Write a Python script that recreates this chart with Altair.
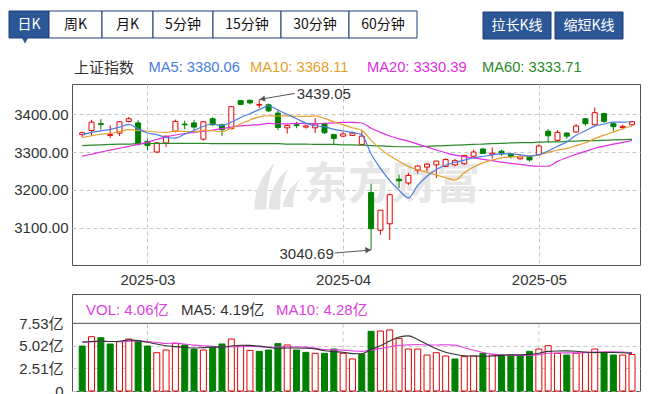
import altair as alt
import pandas as pd

# ---------------- data ----------------
dates = ["02-20", "02-21", "02-24", "02-25", "02-26", "02-27", "02-28",
         "03-03", "03-04", "03-05", "03-06", "03-07", "03-10", "03-11", "03-12", "03-13", "03-14",
         "03-17", "03-18", "03-19", "03-20", "03-21", "03-24", "03-25", "03-26", "03-27", "03-28", "03-31",
         "04-01", "04-02", "04-03", "04-07", "04-08", "04-09", "04-10", "04-11", "04-14", "04-15", "04-16",
         "04-17", "04-18", "04-21", "04-22", "04-23", "04-24", "04-25", "04-28", "04-29", "04-30",
         "05-06", "05-07", "05-08", "05-09", "05-12", "05-13", "05-14", "05-15", "05-16", "05-19", "05-20"]

opens = [3346, 3357, 3375, 3344, 3350, 3381, 3377, 3328, 3300, 3324,
         3355, 3374, 3377, 3334, 3388, 3372, 3362, 3436, 3437, 3424,
         3425, 3403, 3364, 3372, 3366, 3364, 3375, 3346, 3342, 3344,
         3320, 3193, 3093, 3110, 3228, 3218, 3252, 3260, 3266, 3262,
         3266, 3269, 3289, 3308, 3294, 3302, 3295, 3282, 3287, 3293,
         3355, 3331, 3350, 3353, 3388, 3372, 3402, 3375, 3365, 3372]
highs = [3354, 3385, 3387, 3371, 3382, 3393, 3384, 3336, 3327, 3343,
         3386, 3383, 3385, 3382, 3392, 3375, 3422, 3437, 3438, 3439.05,
         3428, 3412, 3373, 3380, 3372, 3390, 3377, 3348, 3353, 3354,
         3355, 3216, 3146, 3190, 3240, 3245, 3266, 3270, 3277, 3283,
         3282, 3292, 3306, 3310, 3312, 3306, 3298, 3293, 3290, 3320,
         3361, 3358, 3352, 3374, 3390, 3418, 3404, 3377, 3372, 3383]
lows = [3340, 3342, 3359, 3337, 3343, 3378, 3317, 3305, 3297, 3313,
        3352, 3360, 3358, 3330, 3370, 3342, 3360, 3424, 3426, 3416,
        3406, 3358, 3349, 3363, 3362, 3350, 3348, 3318, 3340, 3343,
        3317, 3040.69, 3081, 3067, 3205, 3213, 3243, 3249, 3231, 3260,
        3262, 3266, 3287, 3295, 3282, 3290, 3283, 3280, 3275, 3290,
        3324, 3329, 3335, 3351, 3369, 3370, 3377, 3355, 3360, 3370]
closes = [3351, 3379, 3373, 3346, 3380, 3388, 3321, 3317, 3324, 3342,
          3381, 3372, 3366, 3380, 3372, 3359, 3420, 3426, 3430, 3426,
          3409, 3365, 3370, 3370, 3369, 3374, 3351, 3336, 3348, 3350,
          3342, 3097, 3146, 3187, 3224, 3238, 3263, 3268, 3276, 3280,
          3277, 3291, 3300, 3296, 3297, 3295, 3288, 3287, 3279, 3316,
          3343, 3352, 3342, 3369, 3375, 3404, 3381, 3367, 3368, 3380]

ma5 = [3346, 3352, 3356, 3360, 3365.8, 3373.2, 3361.6, 3350.4, 3346, 3338.4,
       3337, 3347.2, 3357, 3368.2, 3374.2, 3369.8, 3379.4, 3391.4, 3401.4, 3412.2,
       3422.2, 3411.2, 3400, 3388, 3376.6, 3369.6, 3366.8, 3360, 3355.6, 3351.8,
       3345.4, 3294.6, 3256.6, 3224.4, 3199.2, 3178.4, 3211.6, 3236, 3253.8, 3265,
       3272.8, 3278.4, 3284.8, 3288.8, 3292.2, 3295.8, 3295.2, 3292.6, 3289.2, 3293,
       3302.6, 3315.4, 3326.4, 3344.4, 3356.2, 3368.4, 3374.2, 3379.2, 3379, 3380.06]
ma10 = [3338, 3343, 3347, 3349, 3354, 3359, 3357, 3355, 3353, 3352.1,
        3355.1, 3354.4, 3353.7, 3357.1, 3356.3, 3353.4, 3363.3, 3374.2, 3384.8, 3393.2,
        3396, 3395.3, 3395.7, 3394.7, 3394.4, 3395.9, 3389, 3380, 3371.8, 3364.2,
        3357.5, 3330.7, 3308.3, 3290, 3275.5, 3261.9, 3253.1, 3246.3, 3239.1, 3232.1,
        3225.6, 3245, 3260.4, 3271.3, 3278.6, 3284.3, 3286.8, 3288.7, 3289, 3292.6,
        3299.2, 3305.3, 3309.5, 3316.8, 3324.6, 3335.5, 3344.8, 3352.8, 3361.7, 3368.11]
ma20 = [3289, 3294, 3300, 3305, 3310, 3315, 3320, 3326, 3333, 3340,
        3345, 3349, 3352, 3355, 3358, 3362, 3366, 3369, 3371, 3372.65,
        3375.55, 3374.85, 3374.7, 3375.9, 3375.35, 3374.65, 3376.15, 3377.1, 3378.3, 3378.7,
        3376.75, 3363, 3352, 3342.35, 3334.95, 3328.9, 3321.05, 3313.15, 3305.45, 3298.15,
        3291.55, 3287.85, 3284.35, 3280.65, 3277.05, 3273.1, 3269.95, 3267.5, 3264.05, 3262.35,
        3262.4, 3275.15, 3284.95, 3294.05, 3301.6, 3309.9, 3315.8, 3320.75, 3325.35, 3330.39]
ma60 = [3317, 3318, 3319, 3320, 3321, 3321, 3322, 3322, 3323, 3323,
        3323, 3323, 3323, 3323, 3322, 3322, 3322, 3322, 3322, 3322,
        3322, 3322, 3321, 3321, 3321, 3320, 3320, 3320, 3319, 3319,
        3318, 3317, 3316, 3315, 3314, 3314, 3314, 3315, 3316, 3317,
        3318, 3319, 3320, 3321, 3322, 3323, 3324, 3325, 3325, 3326,
        3327, 3327, 3328, 3329, 3330, 3330, 3331, 3332, 3333, 3333.71]

volumes = [5.0, 6.04, 5.93, 5.23, 5.48, 5.78, 5.6, 5.0, 4.26, 4.56,
           5.3, 5.12, 4.63, 4.56, 4.86, 5.23, 5.78, 5.0, 4.52, 4.41,
           4.56, 5.27, 5.12, 4.56, 4.30, 4.19, 4.19, 4.67, 4.19, 3.56,
           4.08, 6.64, 6.67, 6.79, 5.86, 4.67, 4.67, 4.0, 4.26, 3.89,
           3.56, 3.82, 3.9, 4.19, 4.0, 4.0, 4.0, 3.93, 4.41, 4.67,
           5.04, 4.19, 4.0, 4.19, 4.3, 4.67, 4.26, 4.0, 4.0, 4.06]
vol_dir = ["down", "up", "down", "down", "up", "up", "down", "down", "up", "up",
           "up", "down", "down", "up", "down", "down", "up", "up", "up", "down",
           "down", "down", "up", "down", "down", "up", "down", "down", "up", "up",
           "down", "down", "up", "up", "up", "up", "up", "up", "up", "up",
           "down", "up", "up", "down", "up", "down", "down", "down", "down", "up",
           "up", "up", "down", "up", "up", "up", "down", "down", "up", "up"]
vol_ma5 = [5.45, 5.5, 5.55, 5.5, 5.54, 5.69, 5.60, 5.42, 5.22, 5.04,
           4.94, 4.85, 4.77, 4.83, 4.89, 4.88, 5.01, 5.09, 5.08, 4.99,
           4.85, 4.75, 4.78, 4.78, 4.76, 4.69, 4.47, 4.38, 4.31, 4.16,
           4.14, 4.63, 5.03, 5.55, 6.01, 6.13, 5.73, 5.20, 4.69, 4.30,
           4.08, 3.91, 3.89, 3.87, 3.89, 3.98, 4.02, 4.02, 4.07, 4.20,
           4.41, 4.45, 4.46, 4.42, 4.34, 4.27, 4.28, 4.28, 4.25, 4.19]
vol_ma10 = [5.4, 5.45, 5.5, 5.5, 5.5, 5.55, 5.55, 5.5, 5.4, 5.29,
            5.32, 5.23, 5.10, 5.03, 4.97, 4.91, 4.93, 4.93, 4.96, 4.94,
            4.87, 4.88, 4.93, 4.93, 4.88, 4.77, 4.61, 4.58, 4.55, 4.46,
            4.41, 4.55, 4.71, 4.93, 5.08, 5.13, 5.18, 5.11, 5.12, 5.15,
            5.10, 4.82, 4.54, 4.28, 4.10, 4.03, 3.96, 3.96, 3.97, 4.05,
            4.20, 4.23, 4.24, 4.24, 4.27, 4.34, 4.37, 4.37, 4.33, 4.28]

month_idx = [7, 28, 49]
month_labels = ["2025-03", "2025-04", "2025-05"]
price_ticks = [3100, 3200, 3300, 3400]
vol_ticks = [0, 2.51, 5.02, 7.53]
index_name = "上证指数"
toolbar_left = ["日K", "周K", "月K", "5分钟", "15分钟", "30分钟", "60分钟"]
toolbar_right = ["拉长K线", "缩短K线"]

# ---------------- styling ----------------
RED, GREEN = "#e60000", "#008000"
C_MA5, C_MA10, C_MA20, C_MA60 = "#4a7de0", "#e59f2b", "#e02ee0", "#2a8a2a"
GRID = "#c8c8c8"
BLUE_BTN = "#2b5797"
NAVY = "#1e3c78"
FONT = "Liberation Sans, Noto Sans CJK SC, sans-serif"
CJK = "Noto Sans CJK SC, sans-serif"
PX0, PY0 = 71, 83   # page position of the price plot's top-left corner
W = 568

n = len(closes)
idx = list(range(n))

X_SCALE = alt.Scale(domain=[-0.56, 59.32], nice=False, zero=False)
P_SCALE = alt.Scale(domain=[3001, 3480], nice=False, zero=False)
V_SCALE = alt.Scale(domain=[0, 10.79], nice=False, zero=False)


def month_expr():
    e = "''"
    for v, l in zip(month_idx, month_labels):
        e = f"datum.value == {v} ? '{l}' : ({e})"
    return e


x_axis = alt.Axis(values=month_idx, labelExpr=month_expr(), grid=True, gridColor=GRID,
                  gridDash=[4, 3], ticks=False, domain=False, labelPadding=7,
                  labelFontSize=15, labelColor="#333333", title=None,
                  minExtent=24, maxExtent=24, labelFlush=False)
y_axis = alt.Axis(values=price_ticks, format=".2f", grid=True, gridColor=GRID,
                  gridDash=[4, 3], ticks=False, domain=False, labelPadding=4,
                  labelFontSize=15, labelColor="#333333", title=None,
                  minExtent=63, maxExtent=63)
v_axis = alt.Axis(values=vol_ticks,
                  labelExpr="datum.value == 0 ? '0' : format(datum.value, '.2f') + '亿'",
                  grid=True, gridColor=GRID, gridDash=[4, 3], ticks=False, domain=False,
                  labelPadding=9, labelFontSize=15, labelColor="#333333", title=None,
                  minExtent=63, maxExtent=63)


def PX(f):
    return alt.X(f, type="quantitative", scale=X_SCALE, axis=x_axis)


def PY(f):
    return alt.Y(f, type="quantitative", scale=P_SCALE, axis=y_axis)


def VX(f):
    return alt.X(f, type="quantitative", scale=X_SCALE, axis=None)


def VY(f):
    return alt.Y(f, type="quantitative", scale=V_SCALE, axis=v_axis)


one = pd.DataFrame({"k": [0]})


def rect(x0, x1, y0, y1, fill, stroke):
    return alt.Chart(one).mark_rect(fill=fill, stroke=stroke, strokeWidth=1).encode(
        x=alt.value(x0 - PX0), x2=alt.value(x1 - PX0),
        y=alt.value(y0 - PY0), y2=alt.value(y1 - PY0))


def label(txt, x, y, color, size=14, align="center", font=CJK, weight="normal", ox=PX0, oy=PY0):
    return alt.Chart(one).mark_text(align=align, baseline="middle", font=font, fontSize=size,
                                    color=color, fontWeight=weight).encode(
        x=alt.value(x - ox), y=alt.value(y - oy), text=alt.value(txt))


# ---------------- price panel ----------------
cdf = pd.DataFrame({"i": idx, "date": dates, "open": opens, "high": highs,
                    "low": lows, "close": closes})
cdf["dir"] = ["up" if c >= o else "down" for o, c in zip(opens, closes)]

layers = []

# watermark
logo_path = ("M-0.95,1 C-1,0.2 -0.6,-0.5 -0.1,-1 C-0.35,-0.4 -0.45,0.3 -0.45,1 Z "
             "M-0.35,1 C-0.35,0.3 0,-0.35 0.5,-0.75 C0.2,-0.2 0.1,0.4 0.15,1 Z "
             "M0.25,0.9 C0.3,0.4 0.6,0 1,-0.3 C0.75,0.1 0.65,0.5 0.7,0.9 Z")
layers.append(alt.Chart(one).mark_point(shape=logo_path, filled=True, size=2200,
                                        color="#e4e4e4", opacity=1).encode(
    x=alt.value(276 - PX0), y=alt.value(185 - PY0)))
layers.append(label("东方财富", 303, 185, "#e6e6e6", size=44, align="left", weight="bold"))

# candles
for d, col, fill in [("up", RED, "#ffffff"), ("down", GREEN, GREEN)]:
    layers.append(alt.Chart(cdf).transform_filter(alt.datum.dir == d).mark_rule(
        color=col, strokeWidth=1).encode(x=PX("i"), y=PY("low"), y2=alt.Y2("high")))
for d, col, fill in [("up", RED, "#ffffff"), ("down", GREEN, GREEN)]:
    layers.append(alt.Chart(cdf).transform_filter(alt.datum.dir == d).mark_bar(
        width=5, fill=fill, stroke=col, strokeWidth=1).encode(
        x=PX("i"), y=PY("open"), y2=alt.Y2("close")))

# moving averages
for vals, col in [(ma60, C_MA60), (ma20, C_MA20), (ma10, C_MA10), (ma5, C_MA5)]:
    layers.append(alt.Chart(pd.DataFrame({"i": idx, "v": vals})).mark_line(
        color=col, strokeWidth=1.2, interpolate="monotone", clip=True).encode(
        x=PX("i"), y=PY("v")))

# high / low annotations
hi_i = highs.index(max(highs))
lo_i = lows.index(min(lows))
ann = pd.DataFrame({"i": [hi_i, lo_i], "p": [highs[hi_i], lows[lo_i]],
                    "ti": [hi_i + 3.8, lo_i - 3.9], "tp": [highs[hi_i] + 16, lows[lo_i] - 8],
                    "txt": [f"{highs[hi_i]:.2f}", f"{lows[lo_i]:.2f}"]})
layers.append(alt.Chart(ann).mark_rule(color="#555555", strokeWidth=1).encode(
    x=PX("i"), y=PY("p"), x2=alt.X2("ti"), y2=alt.Y2("tp")))
layers.append(alt.Chart(ann.iloc[[0]]).mark_text(align="left", baseline="middle", dx=2, dy=0.5,
                                                 fontSize=15, color="#333333", font=FONT).encode(
    x=PX("ti"), y=PY("tp"), text="txt:N"))
layers.append(alt.Chart(ann.iloc[[1]]).mark_text(align="right", baseline="middle", dx=-1, dy=0.5,
                                                 fontSize=15, color="#333333", font=FONT).encode(
    x=PX("ti"), y=PY("tp"), text="txt:N"))
layers.append(alt.Chart(ann.iloc[[0]]).mark_point(shape="triangle-left", filled=True, size=40,
                                                  color="#555555", opacity=1, angle=350,
                                                  xOffset=3, yOffset=-0.5).encode(
    x=PX("i"), y=PY("p")))
layers.append(alt.Chart(ann.iloc[[1]]).mark_point(shape="triangle-right", filled=True, size=40,
                                                  color="#555555", opacity=1, angle=355,
                                                  xOffset=-3, yOffset=0).encode(
    x=PX("i"), y=PY("p")))

# toolbar
edges = [8, 48, 101, 152, 212, 280, 348, 416]
for k, name in enumerate(toolbar_left):
    sel = k == 0
    layers.append(rect(edges[k], edges[k + 1], 10, 37, BLUE_BTN if sel else "#ffffff", NAVY))
    layers.append(label(name, (edges[k] + edges[k + 1]) / 2, 23.5,
                        "#ffffff" if sel else "#111111"))
layers.append(alt.Chart(one).mark_point(shape="triangle-down", filled=True, size=45,
                                        color=BLUE_BTN, opacity=1).encode(
    x=alt.value(24 - PX0), y=alt.value(39.5 - PY0)))
redges = [(482, 550), (554, 622)]
for (a, b), name in zip(redges, toolbar_right):
    layers.append(rect(a, b, 11, 38, BLUE_BTN, NAVY))
    layers.append(label(name, (a + b) / 2, 24.5, "#ffffff"))

# title row
layers.append(label(index_name, 73, 67, "#333333", size=15, align="left"))
for txt, x, col in [(f"MA5: {ma5[-1]:.2f}", 147.5, C_MA5), (f"MA10: {ma10[-1]:.2f}", 249, C_MA10),
                    (f"MA20: {ma20[-1]:.2f}", 366, C_MA20), (f"MA60: {ma60[-1]:.2f}", 481, C_MA60)]:
    layers.append(label(txt, x, 67, col, size=14.7, align="left", font=FONT))

price = alt.layer(*layers).properties(width=W, height=181)

# ---------------- volume panel ----------------
VY0 = 294
vdf = pd.DataFrame({"i": idx, "vol": volumes, "dir": vol_dir})
vlayers = []
rules_df = pd.DataFrame({"i": month_idx, "y0": [vol_ticks[0]] * len(month_idx),
                         "y1": [vol_ticks[-1]] * len(month_idx)})
vlayers.append(alt.Chart(rules_df).mark_rule(color=GRID, strokeDash=[4, 3], strokeWidth=1).encode(
    x=VX("i"), y=VY("y0"), y2=alt.Y2("y1")))
for d, col, fill in [("up", RED, "#ffffff"), ("down", GREEN, GREEN)]:
    vlayers.append(alt.Chart(vdf).transform_filter(alt.datum.dir == d).mark_bar(
        width=6, fill=fill, stroke=col, strokeWidth=1).encode(x=VX("i"), y=VY("vol")))
for vals, col in [(vol_ma10, "#e040e0"), (vol_ma5, "#333333")]:
    vlayers.append(alt.Chart(pd.DataFrame({"i": idx, "v": vals})).mark_line(
        color=col, strokeWidth=1.1, interpolate="monotone", clip=True).encode(
        x=VX("i"), y=VY("v")))
vlayers.append(alt.Chart(pd.DataFrame({"y": [vol_ticks[-1]]})).mark_rule(
    color="#555555", strokeWidth=1).encode(y=VY("y")))
for txt, x, col in [(f"VOL: {volumes[-1]:.2f}亿", 85, "#e040e0"),
                    (f"MA5: {vol_ma5[-1]:.2f}亿", 180, "#333333"),
                    (f"MA10: {vol_ma10[-1]:.2f}亿", 275, "#e040e0")]:
    vlayers.append(label(txt, x, 310, col, size=15, align="left", font=FONT, oy=VY0))

vol = alt.layer(*vlayers).properties(width=W, height=97)

chart = alt.vconcat(price, vol, spacing=3).properties(
    padding={"left": 0, "top": 2, "right": 0, "bottom": 0}
).configure(font=FONT).configure_view(stroke="#555555", strokeWidth=1)

chart.save("out.html", embed_options={"renderer": "svg", "actions": False})
